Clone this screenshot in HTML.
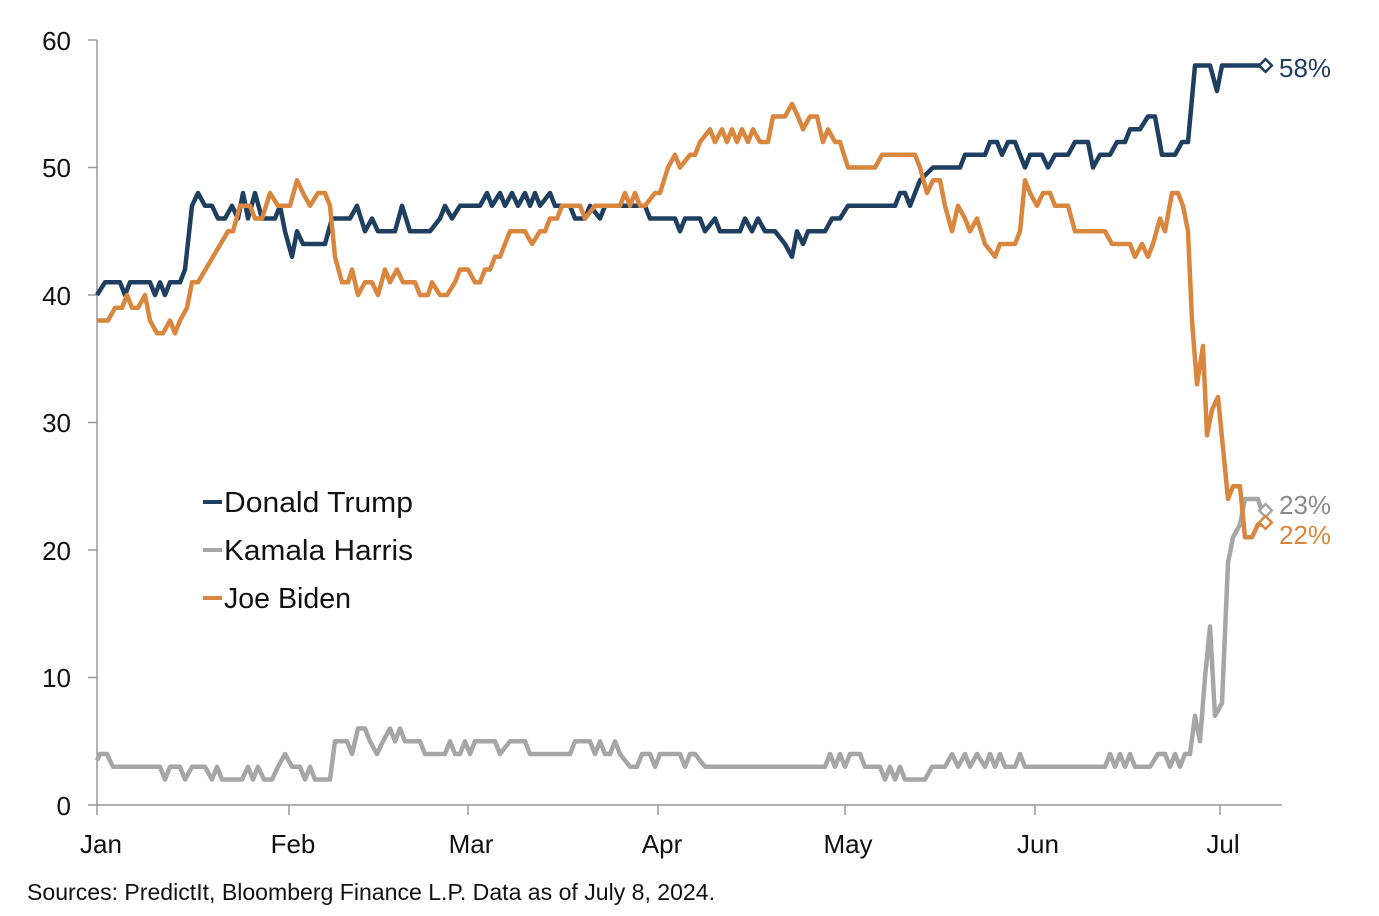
<!DOCTYPE html>
<html><head><meta charset="utf-8"><style>
body{margin:0;background:#fff;}
svg{display:block;font-family:"Liberation Sans","DejaVu Sans",sans-serif;}
</style></head><body>
<svg id="s" width="1379" height="916" viewBox="0 0 1379 916">
<g stroke="#999" stroke-width="1.5" fill="none">
<line x1="97" y1="40" x2="97" y2="806"/>
<line x1="97" y1="805" x2="1282" y2="805"/>
<line x1="88" y1="40" x2="97" y2="40"/>
<line x1="88" y1="167.5" x2="97" y2="167.5"/>
<line x1="88" y1="295" x2="97" y2="295"/>
<line x1="88" y1="422.5" x2="97" y2="422.5"/>
<line x1="88" y1="550" x2="97" y2="550"/>
<line x1="88" y1="677.5" x2="97" y2="677.5"/>
<line x1="88" y1="805" x2="97" y2="805"/>
<line x1="97" y1="805" x2="97" y2="815"/>
<line x1="289" y1="805" x2="289" y2="815"/>
<line x1="468" y1="805" x2="468" y2="815"/>
<line x1="658" y1="805" x2="658" y2="815"/>
<line x1="845" y1="805" x2="845" y2="815"/>
<line x1="1035" y1="805" x2="1035" y2="815"/>
<line x1="1220" y1="805" x2="1220" y2="815"/>
</g>
<g font-size="26" fill="#111" text-anchor="end">
<text x="71" y="50">60</text><text x="71" y="177">50</text><text x="71" y="305">40</text>
<text x="71" y="432">30</text><text x="71" y="560">20</text><text x="71" y="687">10</text><text x="71" y="815">0</text>
</g>
<g font-size="26" fill="#111" text-anchor="middle">
<text x="101" y="853">Jan</text><text x="293" y="853">Feb</text><text x="471" y="853">Mar</text>
<text x="662" y="853">Apr</text><text x="848" y="853">May</text><text x="1038" y="853">Jun</text><text x="1223" y="853">Jul</text>
</g>
<text x="27" y="900" font-size="23" fill="#111" textLength="688" lengthAdjust="spacingAndGlyphs">Sources: PredictIt, Bloomberg Finance L.P. Data as of July 8, 2024.</text>
<g font-size="29" fill="#111">
<line x1="203" y1="502" x2="222" y2="502" stroke="#1f3f60" stroke-width="4"/><text x="224" y="512" textLength="189" lengthAdjust="spacingAndGlyphs">Donald Trump</text>
<line x1="203" y1="550" x2="222" y2="550" stroke="#a6a6a6" stroke-width="4"/><text x="224" y="560" textLength="189" lengthAdjust="spacingAndGlyphs">Kamala Harris</text>
<line x1="203" y1="598" x2="222" y2="598" stroke="#d9863f" stroke-width="4"/><text x="224" y="608" textLength="127" lengthAdjust="spacingAndGlyphs">Joe Biden</text>
</g>
<g id="lines"></g>
<g stroke-width="2.5" fill="#fff">
<rect x="1261" y="61" width="9" height="9" transform="rotate(45 1265.5 65.5)" stroke="#1f3f60"/>
<rect x="1261" y="506" width="9" height="9" transform="rotate(45 1265.5 510.5)" stroke="#a6a6a6"/>
<rect x="1261" y="518" width="9" height="9" transform="rotate(45 1265.5 522.5)" stroke="#d9863f"/>
</g>
<text x="1279" y="77" font-size="26" fill="#1f3f60">58%</text>
<text x="1279" y="514" font-size="26" fill="#8a8a8a">23%</text>
<text x="1279" y="544" font-size="26" fill="#d9863f">22%</text>
</svg>
<script>
var T=[97,40,105,41,120,41,125,40,130,41,150,41,155,40,160,41,165,40,170,41,180,41,185,42,192,47,198,48,205,47,212,47,218,46,225,46,232,47,238,46,243,48,248,46,255,48,262,46,275,46,280,47,285,45,292,43,297,45,303,44,325,44,332,46,350,46,357,47,365,45,372,46,378,45,395,45,402,47,410,45,430,45,440,46,445,47,452,46,460,47,480,47,487,48,492,47,500,48,505,47,512,48,518,47,525,48,530,47,535,48,540,47,550,48,555,47,570,47,575,46,585,46,590,47,600,46,605,47,645,47,650,46,675,46,680,45,685,46,700,46,705,45,715,46,720,45,740,45,745,46,752,45,758,46,765,45,775,45,785,44,792,43,797,45,803,44,808,45,825,45,832,46,840,46,848,47,895,47,900,48,905,48,910,47,920,49,933,50,960,50,965,51,985,51,990,52,997,52,1002,51,1008,52,1015,52,1025,50,1030,51,1042,51,1048,50,1055,51,1068,51,1075,52,1088,52,1093,50,1100,51,1110,51,1117,52,1125,52,1130,53,1140,53,1148,54,1155,54,1162,51,1175,51,1182,52,1188,52,1195,58,1210,58,1217,56,1222,58,1262,58];
var B=[97,38,108,38,115,39,122,39,127,40,132,39,138,39,145,40,150,38,157,37,163,37,170,38,175,37,180,38,187,39,192,41,198,41,228,45,233,45,240,47,250,47,255,46,262,46,270,48,278,47,290,47,297,49,303,48,310,47,318,48,325,48,330,47,335,43,342,41,348,41,352,42,358,40,365,41,372,41,378,40,385,42,390,41,397,42,403,41,415,41,420,40,428,40,432,41,440,40,447,40,455,41,460,42,468,42,475,41,480,41,485,42,490,42,495,43,500,43,510,45,525,45,532,44,540,45,545,45,550,46,557,46,562,47,580,47,585,46,595,47,620,47,625,48,630,47,635,48,640,47,645,47,655,48,660,48,668,50,675,51,680,50,690,51,695,51,700,52,710,53,715,52,722,53,727,52,732,53,737,52,742,53,748,52,753,53,760,52,768,52,773,54,785,54,792,55,798,54,803,53,810,54,817,54,823,52,828,53,835,52,840,52,848,50,875,50,882,51,915,51,920,50,927,48,933,49,940,49,945,47,952,45,958,47,965,46,970,45,977,46,985,44,995,43,1000,44,1015,44,1020,45,1025,49,1030,48,1037,47,1043,48,1050,48,1055,47,1068,47,1075,45,1105,45,1112,44,1130,44,1135,43,1142,44,1148,43,1153,44,1160,46,1165,45,1172,48,1178,48,1183,47,1188,45,1192,38,1197,33,1203,36,1207,29,1212,31,1218,32,1223,28,1228,24,1233,25,1240,25,1245,21,1252,21,1258,22,1262,22];
var H=[97,3.5,100,4,107,4,113,3,160,3,165,2,170,3,180,3,185,2,192,3,205,3,212,2,217,3,222,2,242,2,248,3,253,2,258,3,264,2,272,2,278,3,285,4,292,3,300,3,305,2,310,3,315,2,330,2,335,5,347,5,352,4,358,6,365,6,370,5,377,4,383,5,390,6,395,5,400,6,405,5,420,5,425,4,445,4,450,5,455,4,460,4,465,5,470,4,475,5,495,5,500,4,510,5,525,5,530,4,570,4,575,5,590,5,595,4,600,5,605,4,610,4,615,5,620,4,630,3,637,3,642,4,650,4,655,3,660,4,680,4,685,3,690,4,695,4,705,3,825,3,830,4,835,3,840,4,845,3,850,4,860,4,865,3,880,3,885,2,890,3,895,2,900,3,905,2,925,2,932,3,945,3,952,4,958,3,965,4,970,3,977,4,985,3,990,4,995,3,1000,4,1005,3,1015,3,1020,4,1025,3,1105,3,1110,4,1115,3,1120,4,1125,3,1130,4,1135,3,1142,3,1150,3,1158,4,1165,4,1170,3,1175,4,1180,3,1185,4,1190,4,1195,7,1200,5,1205,10,1210,14,1215,7,1222,8,1228,19,1233,21,1240,22,1245,24,1258,24,1262,23];
function pl(a,c){var p=[];for(var i=0;i<a.length;i+=2)p.push(a[i]+','+(805-a[i+1]*12.75).toFixed(1));
return '<polyline points="'+p.join(' ')+'" fill="none" stroke="'+c+'" stroke-width="4.5" stroke-linejoin="round"/>';}
document.getElementById('lines').innerHTML=pl(H,'#a6a6a6')+pl(T,'#1f3f60')+pl(B,'#d9863f');
</script>
</body></html>
